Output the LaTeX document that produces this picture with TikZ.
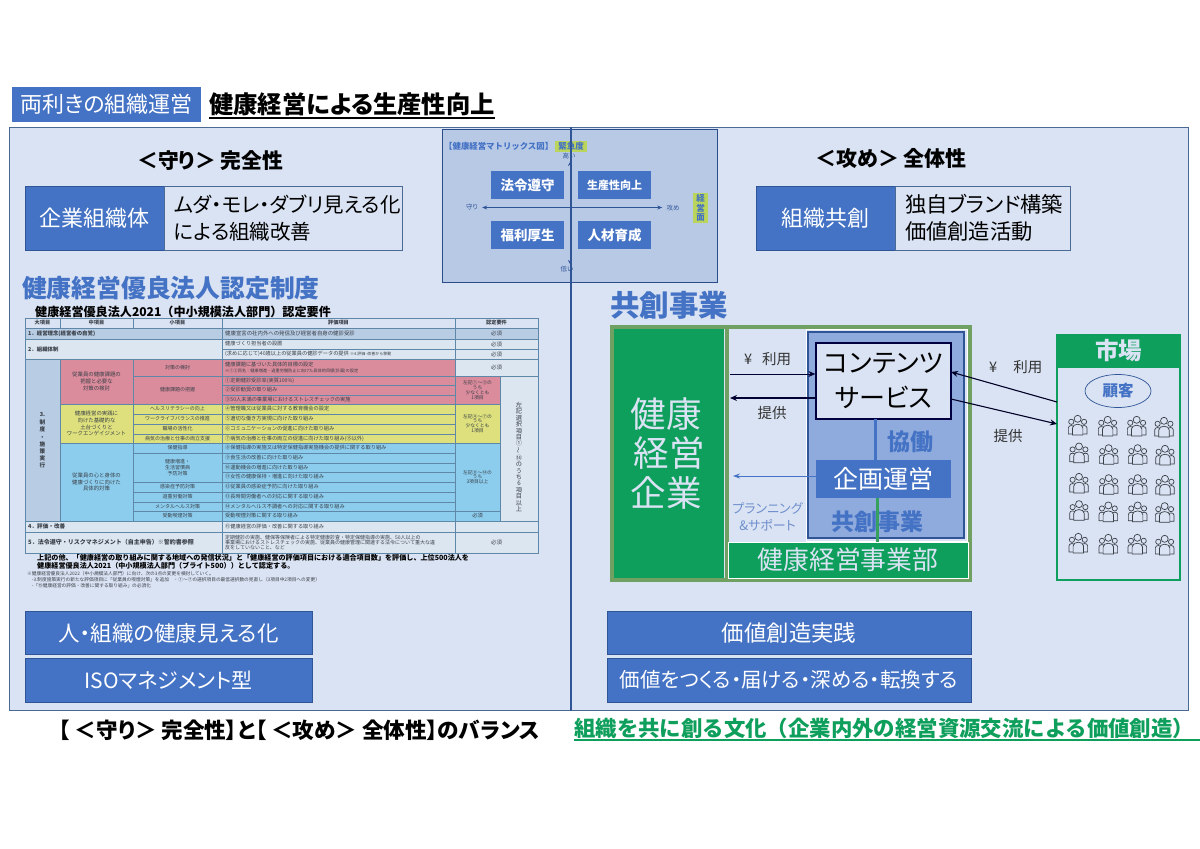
\documentclass[tikz,border=0pt]{standalone}
\usepackage{fontspec}
\setmainfont[RawFeature=+palt]{Noto Sans CJK JP}
\newfontfamily\fullw{Noto Sans CJK JP}
\usetikzlibrary{arrows.meta,shapes.geometric}
\definecolor{pblue}{HTML}{4472C4}
\definecolor{dblue}{HTML}{2F5597}
\definecolor{panel}{HTML}{DAE3F3}
\definecolor{pstroke}{HTML}{4A6A94}
\definecolor{matrixf}{HTML}{B8C9E6}
\definecolor{kgreen}{HTML}{0F9F5C}
\definecolor{fgreen}{HTML}{70A162}
\definecolor{midblue}{HTML}{8FAADC}
\definecolor{hili}{HTML}{BBD45C}
\definecolor{tstroke}{HTML}{5F87A8}
\definecolor{tlight}{HTML}{DCE6F1}
\definecolor{tmid}{HTML}{B8CCE4}
\definecolor{tpink}{HTML}{DA8B9C}
\definecolor{tyel}{HTML}{DDE07C}
\definecolor{tsky}{HTML}{8CCDEE}
\definecolor{ink}{HTML}{3A4048}
\definecolor{plan}{HTML}{6F8FCC}
\newcommand{\fs}[2]{\fontsize{#1}{#2}\selectfont}
\newcount\cellno
\newcommand{\tcell}[7]{\global\advance\cellno by 1
  \path[cellbox,fill=#5] (#1,#2) rectangle (#3,#4);
  \node[celltxt,font=\fullw\fs{#6}{#6}] (cell\the\cellno) at ({(#1+#3)/2},{(#2+#4)/2}) {#7};}
\newcommand{\lcell}[7]{\global\advance\cellno by 1
  \path[cellbox,fill=#5] (#1,#2) rectangle (#3,#4);
  \node[celltxt,anchor=west,align=left,font=\fullw\fs{#6}{#6}] (cell\the\cellno) at ({#1+3},{(#2+#4)/2}) {#7};}
\tikzset{
  bluebox/.style={draw=dblue,line width=0.5pt,fill=pblue,text=white,inner sep=0,align=center},
  lightbox/.style={draw=pstroke,line width=0.7pt,fill=panel,text=black,inner sep=0,align=center},
  plain/.style={inner sep=0,align=center},
  cellbox/.style={draw=tstroke,line width=0.6pt},
  celltxt/.style={inner sep=0,align=center,text=ink},
  wirearrow/.style={draw=black!85!blue,line width=1.1pt,-{Stealth[length=7pt,width=6pt]}},
  people/.pic={
    \begin{scope}[draw=ink,line width=0.7pt,fill=panel]
      \filldraw (-9.3,9) -- (-9.3,2.8) .. controls (-9.3,-0.2) and (-3.5,-0.2) .. (-3.5,2.8) -- (-3.5,9) -- cycle;
      \filldraw (9.3,9) -- (9.3,2.8) .. controls (9.3,-0.2) and (3.5,-0.2) .. (3.5,2.8) -- (3.5,9) -- cycle;
      \filldraw (-6.4,-3.2) circle (2.6);
      \filldraw (6.4,-3.2) circle (2.6);
      \filldraw (-5.2,10) -- (-5.2,3) .. controls (-5.2,-2) and (5.2,-2) .. (5.2,3) -- (5.2,10) -- cycle;
      \filldraw (0,-6.2) circle (3.5);
    \end{scope}
  }
}
\begin{document}
\begin{tikzpicture}[x=1pt,y=-1pt]
\useasboundingbox (0,0) rectangle (1200,849);
\fill[white] (0,0) rectangle (1200,849);

% header
\node[bluebox,draw=none,minimum width=189pt,minimum height=35pt,font=\fs{22}{24}] (hd) at (106.5,104.5) {両利きの組織運営};
\node[plain,anchor=west,font=\fs{24.3}{26}\bfseries] (ttl) at (209,104) {健康経営による生産性向上};
\draw[black,line width=1.3pt] (ttl.west |- 0,118) -- (ttl.east |- 0,118);

% panels
\node[draw=pstroke,line width=1pt,fill=panel,minimum width=561pt,minimum height=583pt,inner sep=0] (lp) at (290,418.5) {};
\node[draw=pstroke,line width=1pt,fill=panel,minimum width=617pt,minimum height=583pt,inner sep=0] (rp) at (879.5,418.5) {};

% matrix
\node[draw=dblue!90!black,line width=0.9pt,fill=matrixf,minimum width=275pt,minimum height=153pt,inner sep=0] (mx) at (579.5,205.5) {};
\node[bluebox,draw=none,minimum width=73pt,minimum height=28pt,font=\fs{13.5}{15}\bfseries] (m1) at (527.5,185) {法令遵守};
\node[bluebox,draw=none,minimum width=73pt,minimum height=28pt,font=\fs{11}{13}\bfseries] (m2) at (614.5,185) {生産性向上};
\node[bluebox,draw=none,minimum width=73pt,minimum height=28pt,font=\fs{13.5}{15}\bfseries] (m3) at (527.5,235) {福利厚生};
\node[bluebox,draw=none,minimum width=73pt,minimum height=28pt,font=\fs{13.5}{15}\bfseries] (m4) at (614.5,235) {人材育成};
\node[plain,font=\fs{6.5}{7},text=dblue] (mm) at (472,207.5) {守り};
\node[plain,font=\fs{6.5}{7},text=dblue] (mp) at (673,208) {攻め};
\node[plain,font=\fs{6.5}{7},text=dblue] (mh) at (569,156) {高い};
\node[plain,font=\fs{6.5}{7},text=dblue] (ml) at (567,269) {低い};
\node[plain,anchor=west,font=\fullw\fs{8.4}{9}\bfseries,text=pblue] (mtitle) at (444,146) {【健康経営マトリックス図】};
\node[plain,fill=hili,minimum width=32pt,minimum height=11pt,font=\fs{8.5}{9}\bfseries,text=pblue] (mk) at (571,146) {緊急度};
\node[plain,fill=hili,minimum width=15pt,minimum height=30pt,font=\fs{8.5}{9.6}\bfseries,text=pblue] (mv) at (700.5,208) {経\\営\\面};
\draw[dblue,line width=1pt,{Stealth[length=5pt,width=4pt]}-{Stealth[length=5pt,width=4pt]}] ([xshift=4pt]mm.east) -- ([xshift=-4pt]mp.west |- mm.east);
\draw[dblue,line width=1pt,{Stealth[length=4pt,width=4pt]}-{Stealth[length=4pt,width=4pt]}] (570,162) -- (570,264);

% divider between panels
\draw[dblue,line width=1.2pt] (lp.north east) -- (lp.south east);

% left panel
\node[plain,anchor=west,font=\fs{20.8}{23}\bfseries] (mamori) at (137,161) {＜守り＞ 完全性};
\node[bluebox,minimum width=139pt,minimum height=64pt,font=\fs{22}{25}] (kigyo) at (94.5,218) {企業組織体};
\node[lightbox,minimum width=238pt,minimum height=64pt,text width=218pt,align=left,font=\fs{20.5}{27}] (muda) at (283,218) {ムダ・モレ・ダブリ見える化\\による組織改善};
\node[plain,anchor=west,font=\fs{24.8}{28}\bfseries,text=pblue] (nintei) at (22,288) {健康経営優良法人認定制度};
\node[plain,anchor=west,font=\fullw\fs{12.1}{14}\bfseries] (ttitle) at (35,312) {健康経営優良法人2021（中小規模法人部門）認定要件};

% table
\tcell{25}{318}{60}{328}{panel}{5.2}{\bfseries 大項目}
\tcell{60}{318}{133}{328}{panel}{5.2}{\bfseries 中項目}
\tcell{133}{318}{222}{328}{panel}{5.2}{\bfseries 小項目}
\tcell{222}{318}{455}{328}{panel}{5.2}{\bfseries 評価項目}
\tcell{455}{318}{538}{328}{panel}{5.2}{\bfseries 認定要件}
\lcell{25}{328}{222}{339}{tmid}{5.4}{\bfseries 1．経営理念(経営者の自覚)}
\lcell{222}{328}{455}{339}{tmid}{5.4}{健康宣言の社内外への発信及び経営者自身の健診受診}
\tcell{455}{328}{538}{339}{tmid}{5.4}{必須}
\lcell{25}{339}{222}{359}{tlight}{5.4}{\bfseries 2．組織体制}
\lcell{222}{339}{455}{349}{tlight}{5.2}{健康づくり担当者の設置}
\tcell{455}{339}{538}{349}{tlight}{5.4}{必須}
\lcell{222}{349}{455}{359}{tlight}{5.2}{(求めに応じて)40歳以上の従業員の健診データの提供 \fs{4}{4}※4.評価･改善から移動}
\tcell{455}{349}{538}{359}{tlight}{5.4}{必須}
\tcell{25}{359}{60}{521}{tmid}{5.6}{\bfseries 3.\\[3pt]\bfseries 制\\[1.5pt]\bfseries 度\\[1.5pt]\bfseries ・\\[1.5pt]\bfseries 施\\[1.5pt]\bfseries 策\\[1.5pt]\bfseries 実\\[1.5pt]\bfseries 行}
\tcell{60}{359}{133}{404}{tpink}{5.4}{従業員の健康課題の\\[1.5pt]把握と必要な\\[1.5pt]対策の検討}
\tcell{133}{359}{222}{376}{tpink}{5}{対策の検討}
\tcell{133}{376}{222}{404}{tpink}{5}{健康課題の把握}
\lcell{222}{359}{455}{376}{tpink}{5.2}{健康課題に基づいた具体的目標の設定\\[0.5pt]\fs{4.2}{4.4}※①②目名：健康増進・過重労働防止に向けた具体的目標(計画)の設定}
\lcell{222}{376}{455}{385}{tpink}{5.2}{①定期健診受診率(実質100\%)}
\lcell{222}{385}{455}{395}{tpink}{5.2}{②受診勧奨の取り組み}
\lcell{222}{395}{455}{404}{tpink}{5.2}{③50人未満の事業場におけるストレスチェックの実施}
\tcell{455}{359}{538}{376}{tlight}{5.4}{必須}
\tcell{455}{376}{500}{404}{tpink}{4.8}{左記①～③の\\うち\\少なくとも\\1項目}
\tcell{60}{404}{133}{443}{tyel}{5.4}{健康経営の実践に\\[1.5pt]向けた基礎的な\\[1.5pt]土台づくりと\\[1.5pt]ワークエンゲイジメント}
\tcell{133}{404}{222}{414}{tyel}{5}{ヘルスリテラシーの向上}
\tcell{133}{414}{222}{424}{tyel}{5}{ワークライフバランスの推進}
\tcell{133}{424}{222}{434}{tyel}{5}{職場の活性化}
\tcell{133}{434}{222}{443}{tyel}{5}{病気の治療と仕事の両立支援}
\lcell{222}{404}{455}{414}{tyel}{5.2}{④管理職又は従業員に対する教育機会の設定}
\lcell{222}{414}{455}{424}{tyel}{5.2}{⑤適切な働き方実現に向けた取り組み}
\lcell{222}{424}{455}{434}{tyel}{5.2}{⑥コミュニケーションの促進に向けた取り組み}
\lcell{222}{434}{455}{443}{tyel}{5.2}{⑦病気の治療と仕事の両立の促進に向けた取り組み(⑮以外)}
\tcell{455}{404}{500}{443}{tyel}{4.8}{左記④～⑦の\\うち\\少なくとも\\1項目}
\tcell{60}{443}{133}{521}{tsky}{5.4}{従業員の心と身体の\\[1.5pt]健康づくりに向けた\\[1.5pt]具体的対策}
\tcell{133}{443}{222}{453}{tsky}{5}{保健指導}
\tcell{133}{453}{222}{482}{tsky}{5}{健康増進・\\[1pt]生活習慣病\\[1pt]予防対策}
\tcell{133}{482}{222}{492}{tsky}{5}{感染症予防対策}
\tcell{133}{492}{222}{502}{tsky}{5}{過重労働対策}
\tcell{133}{502}{222}{511}{tsky}{5}{メンタルヘルス対策}
\tcell{133}{511}{222}{521}{tsky}{5}{受動喫煙対策}
\lcell{222}{443}{455}{453}{tsky}{5.2}{⑧保健指導の実施又は特定保健指導実施機会の提供に関する取り組み}
\lcell{222}{453}{455}{463}{tsky}{5.2}{⑨食生活の改善に向けた取り組み}
\lcell{222}{463}{455}{472}{tsky}{5.2}{⑩運動機会の増進に向けた取り組み}
\lcell{222}{472}{455}{482}{tsky}{5.2}{⑪女性の健康保持・増進に向けた取り組み}
\lcell{222}{482}{455}{492}{tsky}{5.2}{⑫従業員の感染症予防に向けた取り組み}
\lcell{222}{492}{455}{502}{tsky}{5.2}{⑬長時間労働者への対応に関する取り組み}
\lcell{222}{502}{455}{511}{tsky}{5.2}{⑭メンタルヘルス不調者への対応に関する取り組み}
\lcell{222}{511}{455}{521}{tsky}{5.2}{受動喫煙対策に関する取り組み}
\tcell{455}{443}{500}{511}{tsky}{4.8}{左記⑧～⑭の\\うち\\3項目以上}
\tcell{455}{511}{500}{521}{tsky}{5.2}{必須}
\tcell{500}{376}{538}{521}{tlight}{6.2}{\\[16pt]左\\[0.2pt]記\\[0.2pt]選\\[0.2pt]択\\[0.2pt]項\\[0.2pt]目\\[0.2pt]①\\[0.2pt]\rotatebox{90}{～}\\[0.2pt]⑭\\[0.2pt]の\\[0.2pt]う\\[0.2pt]ち\\[0.2pt]6\\[0.2pt]項\\[0.2pt]目\\[0.2pt]以\\[0.2pt]上}
\lcell{25}{521}{222}{532}{tlight}{5.6}{\bfseries 4．評価・改善}
\lcell{222}{521}{455}{532}{tlight}{5.2}{⑮健康経営の評価・改善に関する取り組み}
\path[cellbox,fill=tlight] (455,521) rectangle (538,532);
\lcell{25}{532}{222}{553}{tlight}{6}{\bfseries 5．法令遵守・リスクマネジメント（自主申告）※誓約書参照}
\lcell{222}{532}{455}{553}{tlight}{5}{定期健診の実施、健保等保険者による特定健康診査・特定保健指導の実施、50人以上の\\[0.4pt]事業場におけるストレスチェックの実施、従業員の健康管理に関連する法令について重大な違\\[0.4pt]反をしていないこと、など}
\tcell{455}{532}{538}{553}{tlight}{5.4}{必須}
\node[plain,anchor=north west,align=left,font=\fullw\fs{7.1}{8.2}\bfseries] (tnote) at (37,554) {上記の他、「健康経営の取り組みに関する地域への発信状況」と「健康経営の評価項目における適合項目数」を評価し、上位500法人を\\健康経営優良法人2021（中小規模法人部門（ブライト500））として認定する。};
\node[plain,anchor=north west,align=left,font=\fullw\fs{4.7}{6},text=ink] (tfoot) at (27,571) {※健康経営優良法人2022（中小規模法人部門）に向け、次の3点の変更を検討していく。\\　-3.制度施策実行の新たな評価項目に「従業員の喫煙対策」を追加　・①～⑦の選択項目の最低選択数の見直し（3項目中2項目への変更）\\　-「⑮健康経営の評価・改善に関する取り組み」の必須化};

\node[bluebox,minimum width=287pt,minimum height=43pt,font=\fs{21.5}{24}] (b1) at (168.5,633) {人・組織の健康見える化};
\node[bluebox,minimum width=287pt,minimum height=44pt,font=\fs{21}{24}] (b2) at (168.5,680) {ISOマネジメント型};

% right panel
\node[plain,anchor=west,font=\fs{21}{23}\bfseries] (seme) at (815,158) {＜攻め＞ 全体性};
\node[bluebox,minimum width=139pt,minimum height=64pt,font=\fs{22}{25}] (soshiki) at (825.5,218) {組織共創};
\node[lightbox,minimum width=175pt,minimum height=64pt,text width=155pt,align=left,font=\fs{21.3}{27}] (dokuji) at (982.5,218) {独自ブランド構築\\価値創造活動};
\node[plain,anchor=west,font=\fs{29.5}{32}\bfseries,text=pblue] (kyoso) at (610,305) {共創事業};

\node[draw=fgreen,line width=4pt,fill=panel,minimum width=358pt,minimum height=253pt,inner sep=0] (frame) at (791,453.5) {};
\node[fill=kgreen,text=panel,inner sep=0,minimum width=110pt,minimum height=249pt,align=center,font=\fs{35.5}{39.5}] (kenko) at (669,453.5) {健康\hspace*{6pt}\\経営\hspace*{6pt}\\企業\hspace*{6pt}};
\draw[fgreen,line width=4pt] (726.5,327) -- (726.5,580);
\node[draw=white,line width=0.7pt,fill=none,minimum width=161pt,minimum height=212pt,inner sep=0] (kwhite) at (886.5,435) {};
\node[draw=dblue,line width=2.2pt,fill=midblue,minimum width=156pt,minimum height=206pt,inner sep=0] (kbox) at (886,435) {};
\node[draw=black!75!blue,line width=1.3pt,fill=panel,minimum width=135pt,minimum height=76pt,inner sep=0,align=center,font=\fs{26}{35}] (content) at (883.5,381) {コンテンツ\\サービス};
\node[bluebox,draw=none,minimum width=135pt,minimum height=38pt,font=\fs{25}{28}] (kikaku) at (883.5,479) {企画運営};
\node[plain,font=\fs{23}{26}\bfseries,text=pblue] (kyodo) at (910,442) {協働};
\node[plain,font=\fs{23}{26}\bfseries,text=pblue] (kkyoso) at (877,522) {共創事業};
\node[draw=white,line width=0.8pt,fill=kgreen,text=panel,inner sep=0,minimum width=240pt,minimum height=36pt,font=\fs{25.8}{28}] (bumon) at (848,560) {健康経営事業部};
\draw[pblue,line width=3pt] (875,419) -- (875,460);
\draw[fgreen!40!kgreen,line width=3pt] (877,498) -- (877,542);
\coordinate (fromK) at (730,374);
\coordinate (toK) at (730,398);
\coordinate (toK2) at (733,476);
\draw[black!80!blue,line width=1pt,-{Stealth[length=7pt,width=6pt]}] (fromK) -- (fromK -| content.west);
\draw[black!80!blue,line width=1.4pt,-{Stealth[length=7pt,width=6pt]}] (toK -| content.west) -- (toK);
\draw[pblue,line width=1pt,-{Stealth[length=7pt,width=5pt]}] (toK2 -| kikaku.west) -- (toK2);
\node[plain,anchor=west,font=\fs{14.5}{15},text=black!80] (riyo1) at (744,359) {¥\hspace{10pt}利用};
\node[plain,font=\fs{14.5}{16},text=black!80] (teikyo1) at (772,413) {提供};
\node[plain,font=\fs{13}{17},text=plan] (plansup) at (767.5,516.5) {プランニング\\\&サポート};

% market
\node[draw=kgreen,line width=2pt,fill=panel,minimum width=123pt,minimum height=245pt,inner sep=0] (market) at (1118.5,457.5) {};
\node[draw=kgreen,line width=1.5pt,fill=kgreen,text=panel,minimum width=123pt,minimum height=32pt,inner sep=0,font=\fs{23.5}{26}\bfseries] (ichiba) at (1118.5,351) {市場};
\node[ellipse,draw=dblue,line width=0.7pt,minimum width=66pt,minimum height=33pt,inner sep=0,font=\fs{15.5}{18}\bfseries,text=pblue] (kokyaku) at (1118,391) {顧客};
\foreach \cx/\cy in {353/300,443/303,530/303,612/306,357/383,446/388,533/388,615/390,357/474,446/478,533/478,615/480,357/556,445/560,533/560,614/562,355/654,445/657,532/657,614/660}
  \pic at ({960+\cx/3},{325+\cy/3}) {people};
\coordinate (mkA) at (1057,402);
\coordinate (ctA) at (951,372);
\coordinate (ctB) at (951,399);
\coordinate (mkB) at (1057,424);
\draw[wirearrow] (mkA) -- (ctA);
\draw[wirearrow] (ctB) -- (mkB);
\node[plain,anchor=west,font=\fs{14.5}{15},text=black!80] (riyo2) at (989,367) {¥\hspace{16pt}利用};
\node[plain,font=\fs{14.5}{16},text=black!80] (teikyo2) at (1008,436) {提供};

\node[bluebox,minimum width=364pt,minimum height=43pt,font=\fs{22.4}{24}] (b3) at (789,633) {価値創造実践};
\node[bluebox,minimum width=364pt,minimum height=44pt,font=\fs{20.5}{24}] (b4) at (789,680) {価値をつくる・届ける・深める・転換する};

% bottom captions
\node[plain,anchor=west,font=\fs{21.6}{23}\bfseries] (capl) at (59,730) {【 ＜守り＞ 完全性】と【 ＜攻め＞ 全体性】のバランス};
\node[plain,anchor=west,font=\fullw\fs{21.4}{24}\bfseries,text=kgreen] (capr) at (574,728) {組織を共に創る文化（企業内外の経営資源交流による価値創造）};
\draw[kgreen,line width=1.2pt] (capr.west |- 0,740) -- (1200,740);
\end{tikzpicture}
\end{document}
